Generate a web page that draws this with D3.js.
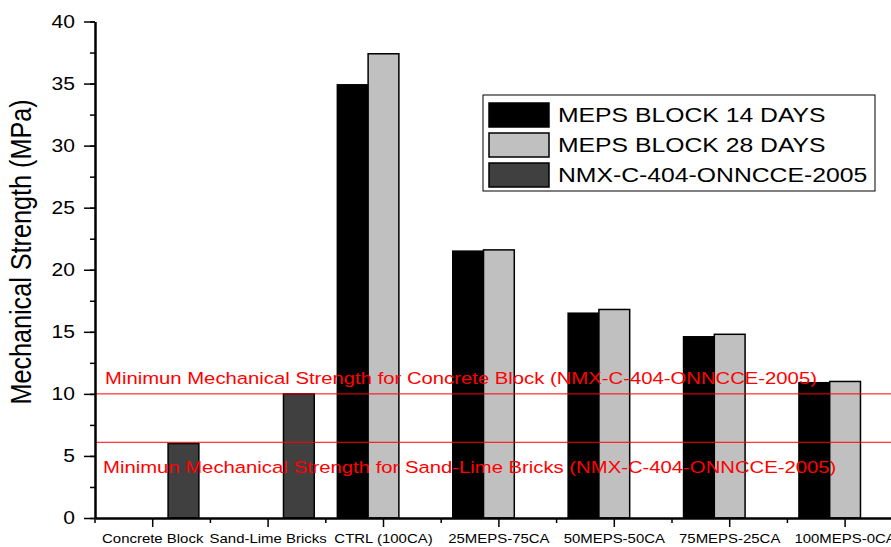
<!DOCTYPE html>
<html>
<head>
<meta charset="utf-8">
<script src="https://cdn.jsdelivr.net/npm/d3@7/dist/d3.min.js"></script>
<style>
  html, body { margin: 0; padding: 0; background: #fff; }
  svg { display: block; font-family: "Liberation Sans", Arial, sans-serif; }
</style>
</head>
<body>
<svg id="chart" width="891" height="547"></svg>
<script>
// Categories along the x axis
const categories = ["Concrete Block", "Sand-Lime Bricks", "CTRL (100CA)", "25MEPS-75CA",
                    "50MEPS-50CA", "75MEPS-25CA", "100MEPS-0CA"];
// Series values (MPa); null where a series has no bar
const seriesNames = ["MEPS BLOCK 14 DAYS", "MEPS BLOCK 28 DAYS", "NMX-C-404-ONNCCE-2005"];
const meps14 = [null, null, 34.9, 21.5, 16.5, 14.6, 10.9];
const meps28 = [null, null, 37.4, 21.6, 16.8, 14.8, 11.0];
const nmx    = [6.0, 10.0, null, null, null, null, null];
const seriesFill = ["#000000", "#c0c0c0", "#404040"];
// Reference lines
const refLines = [
  { value: 10.0, label: "Minimun Mechanical Strength for Concrete Block (NMX-C-404-ONNCCE-2005)", dy: -9.7, x: 105 },
  { value: 6.1,  label: "Minimun Mechanical Strength for Sand-Lime Bricks (NMX-C-404-ONNCCE-2005)", dy: 30.3, x: 103 }
];
const yTicks = [0, 5, 10, 15, 20, 25, 30, 35, 40];
const yMinorTicks = d3.range(0, 40.01, 2.5);

// Text is drawn slightly wide
const SX = 1.19;

const svg = d3.select("#chart");
const plotLeft = 95, plotBottom = 518, plotTop = 21.5;

const x0 = d3.scaleBand().domain(categories).range([plotLeft, plotLeft + 7 * 115.4]).padding(0);
const x1 = d3.scaleBand().domain(seriesNames)
  .range([x0.bandwidth() * 0.1, x0.bandwidth() * 0.9]).padding(0);
const y = d3.scaleLinear().domain([0, 40]).range([plotBottom, plotTop]);

const allSeries = [meps14, meps28, nmx];

// Bars
const groups = svg.append("g").selectAll("g")
  .data(categories).join("g")
  .attr("transform", d => `translate(${x0(d)},0)`);

groups.selectAll("rect")
  .data((c, i) => allSeries.map((s, k) => ({ name: seriesNames[k], value: s[i], k })).filter(d => d.value != null))
  .join("rect")
  .attr("x", d => x1(d.name))
  .attr("y", d => y(d.value))
  .attr("width", x1.bandwidth())
  .attr("height", d => y(0) - y(d.value))
  .attr("fill", d => seriesFill[d.k])
  .attr("stroke", "#000")
  .attr("stroke-width", 1.5);

// Reference lines and labels
refLines.forEach(r => {
  svg.append("line")
    .attr("x1", plotLeft).attr("x2", 891)
    .attr("y1", y(r.value)).attr("y2", y(r.value))
    .attr("stroke", "#ff0000").attr("stroke-width", 1);
  svg.append("text")
    .attr("transform", `translate(${r.x},${y(r.value) + r.dy}) scale(1.2,1)`)
    .attr("fill", "#ff0000")
    .attr("font-size", 16.9)
    .text(r.label);
});

// Y axis
svg.append("g")
  .attr("transform", `translate(${plotLeft},0)`)
  .call(d3.axisLeft(y).tickValues(yMinorTicks).tickSize(5).tickFormat(""))
  .call(g => g.select(".domain").remove())
  .selectAll("line").attr("stroke-width", 1.5);

const yAxis = svg.append("g")
  .attr("transform", `translate(${plotLeft},0)`)
  .call(d3.axisLeft(y).tickValues(yTicks).tickSize(11).tickSizeOuter(0));
yAxis.select(".domain").attr("stroke-width", 2.5);
yAxis.selectAll(".tick line").attr("stroke-width", 1.5);
yAxis.selectAll(".tick text")
  .attr("font-size", 17.7)
  .attr("font-family", "Liberation Sans, Arial, sans-serif")
  .attr("fill", "#000")
  .attr("x", -20 / SX)
  .attr("transform", `scale(${SX},1)`);

svg.append("text")
  .attr("transform", `translate(23,252) scale(${SX},1) rotate(-90)`)
  .attr("text-anchor", "middle")
  .attr("dominant-baseline", "middle")
  .attr("font-size", 25.2)
  .text("Mechanical Strength (MPa)");

// X axis
const xMinor = d3.range(0, categories.length + 1).map(i => plotLeft + i * x0.step());
svg.append("g").selectAll("line")
  .data(xMinor).join("line")
  .attr("x1", d => d).attr("x2", d => d)
  .attr("y1", plotBottom).attr("y2", plotBottom + 5)
  .attr("stroke", "#000").attr("stroke-width", 1.5);

const xAxis = svg.append("g")
  .attr("transform", `translate(0,${plotBottom})`)
  .call(d3.axisBottom(x0).tickSize(9).tickSizeOuter(0));
xAxis.select(".domain").attr("stroke-width", 2.5);
xAxis.selectAll(".tick line").attr("stroke-width", 1.5);
xAxis.selectAll(".tick text")
  .attr("font-size", 13.6)
  .attr("font-family", "Liberation Sans, Arial, sans-serif")
  .attr("fill", "#000")
  .attr("y", 25.5)
  .attr("dy", null)
  .attr("transform", "scale(1.1,1)");

// Legend
const legend = svg.append("g").attr("transform", "translate(483,95)");
legend.append("rect")
  .attr("width", 392).attr("height", 96)
  .attr("fill", "#fff").attr("stroke", "#000").attr("stroke-width", 1);
seriesNames.forEach((name, i) => {
  legend.append("rect")
    .attr("x", 6).attr("y", 8 + i * 30)
    .attr("width", 60).attr("height", 24)
    .attr("fill", seriesFill[i]).attr("stroke", "#000").attr("stroke-width", 1.5);
  legend.append("text")
    .attr("transform", `translate(75,${26.5 + i * 30}) scale(${SX * 0.99},1)`)
    .attr("font-size", 21)
    .text(name);
});
</script>
</body>
</html>
